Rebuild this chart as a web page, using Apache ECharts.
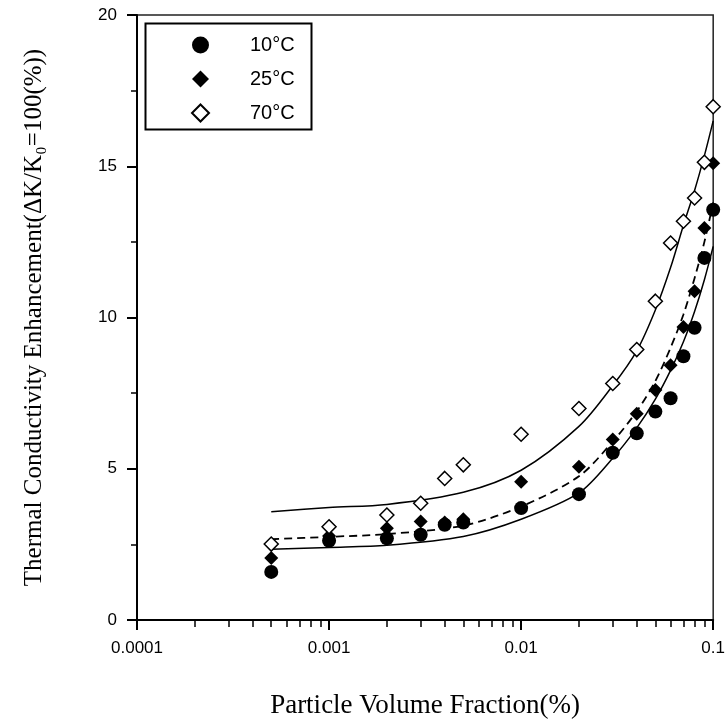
<!DOCTYPE html>
<html>
<head>
<meta charset="utf-8">
<title>Thermal Conductivity Enhancement</title>
<script src="https://cdn.jsdelivr.net/npm/echarts@6/dist/echarts.min.js"></script>
<style>
  html, body { margin: 0; padding: 0; background: #fff; }
  #chart { width: 728px; height: 724px; }
</style>
</head>
<body>
<div id="chart"></div>
<script>
// measured points, x = particle volume fraction (%)
var fractions = [0.0005, 0.001, 0.002, 0.003, 0.004, 0.005, 0.01, 0.02, 0.03, 0.04, 0.05, 0.06, 0.07, 0.08, 0.09, 0.1];
var t10 = [1.59, 2.62, 2.70, 2.82, 3.15, 3.22, 3.70, 4.16, 5.53, 6.17, 6.89, 7.33, 8.72, 9.66, 11.97, 13.56];
var t25 = [2.05, 2.78, 3.03, 3.26, 3.22, 3.33, 4.57, 5.07, 5.97, 6.82, 7.60, 8.42, 9.69, 10.87, 12.96, 15.10];
var t70 = [2.51, 3.08, 3.47, 3.86, 4.68, 5.13, 6.14, 6.99, 7.82, 8.94, 10.54, 12.46, 13.18, 13.95, 15.13, 16.97];

// fitted curves
var curveX = [0.0005, 0.001, 0.002, 0.005, 0.01, 0.02, 0.03, 0.04, 0.05, 0.06, 0.07, 0.08, 0.09, 0.1];
var fitUpper = [3.58, 3.72, 3.82, 4.22, 4.95, 6.40, 7.75, 8.90, 10.25, 11.65, 13.05, 14.20, 15.35, 16.50];
var fitDashed = [2.67, 2.75, 2.84, 3.12, 3.75, 4.75, 5.90, 6.90, 7.90, 9.00, 10.10, 11.30, 12.50, 13.80];
var fitLower = [2.34, 2.40, 2.47, 2.76, 3.33, 4.20, 5.35, 6.35, 7.30, 8.25, 9.20, 10.20, 11.25, 12.35];

var legendNames = ['10\u00b0C', '25\u00b0C', '70\u00b0C'];
var xTickLabels = ['0.0001', '0.001', '0.01', '0.1'];
var xMinorTicks = [0.0002, 0.0003, 0.0004, 0.0005, 0.0006, 0.0007, 0.0008, 0.0009,
                   0.002, 0.003, 0.004, 0.005, 0.006, 0.007, 0.008, 0.009,
                   0.02, 0.03, 0.04, 0.05, 0.06, 0.07, 0.08, 0.09];

function pairs(xs, ys) {
  return xs.map(function (x, i) { return [x, ys[i]]; });
}

var sans = 'Liberation Sans, Arial, sans-serif';
var serif = 'Liberation Serif, Times New Roman, serif';

var chart = echarts.init(document.getElementById('chart'));

var fitLine = function (data, dashed) {
  return {
    type: 'line', data: data, smooth: 0.3,
    showSymbol: false, silent: true, z: 1,
    lineStyle: dashed ? { color: '#000', width: 1.8, type: [8, 5] } : { color: '#000', width: 1.5 }
  };
};

var option = {
  animation: false,
  backgroundColor: '#fff',
  grid: {
    left: 137, right: 12, top: 15, bottom: 103,
    show: true, borderColor: '#222', borderWidth: 1.5
  },
  legend: {
    data: legendNames,
    orient: 'vertical',
    left: 191, top: 35,
    padding: 0,
    itemWidth: 17, itemHeight: 17, itemGap: 14,
    textStyle: { fontFamily: sans, fontSize: 20, color: '#000', padding: [0, 0, 0, 36] }
  },
  graphic: [{
    type: 'rect', left: 143, top: 21, silent: true,
    shape: { width: 166, height: 106 },
    style: { fill: 'none', stroke: '#000', lineWidth: 2 }
  }],
  xAxis: [{
    type: 'log', logBase: 10, min: 0.0001, max: 0.1,
    name: 'Particle Volume Fraction(%)',
    nameLocation: 'middle', nameGap: 72,
    nameTextStyle: { fontFamily: serif, fontSize: 27, color: '#000' },
    axisLine: { lineStyle: { color: '#000', width: 2 } },
    axisTick: { inside: false, length: 10, lineStyle: { color: '#000', width: 2 } },
    axisLabel: {
      margin: 20, fontFamily: sans, fontSize: 17, color: '#000',
      formatter: function (v, i) { return xTickLabels[i]; }
    },
    splitLine: { show: false }
  }, {
    // helper axis carrying the log minor ticks
    type: 'value', min: -4, max: -1, position: 'bottom',
    axisLine: { show: false },
    axisLabel: { show: false },
    splitLine: { show: false },
    axisTick: {
      show: true, inside: false, length: 7,
      customValues: xMinorTicks.map(function (v) { return Math.log10(v); }),
      lineStyle: { color: '#000', width: 1.5 }
    }
  }],
  yAxis: {
    type: 'value', min: 0, max: 20, interval: 5,
    name: 'Thermal Conductivity Enhancement(\u0394K/K\u2080=100(%))',
    nameLocation: 'middle', nameGap: 90,
    nameTextStyle: { fontFamily: serif, fontSize: 25, color: '#000' },
    axisLine: { show: true, lineStyle: { color: '#000', width: 2 } },
    axisTick: { show: true, inside: false, length: 10, lineStyle: { color: '#000', width: 2 } },
    minorTick: { show: true, splitNumber: 2, length: 6, lineStyle: { color: '#000', width: 1.5 } },
    axisLabel: { margin: 20, fontFamily: sans, fontSize: 17, color: '#000' },
    splitLine: { show: false }
  },
  series: [
    fitLine(pairs(curveX, fitUpper), false),
    fitLine(pairs(curveX, fitDashed), true),
    fitLine(pairs(curveX, fitLower), false),
    {
      name: legendNames[0], type: 'scatter', data: pairs(fractions, t10),
      symbol: 'circle', symbolSize: 14, itemStyle: { color: '#000', opacity: 1 }, z: 3
    },
    {
      name: legendNames[1], type: 'scatter', data: pairs(fractions, t25),
      symbol: 'diamond', symbolSize: 14, itemStyle: { color: '#000', opacity: 1 }, z: 4
    },
    {
      name: legendNames[2], type: 'scatter', data: pairs(fractions, t70),
      symbol: 'diamond', symbolSize: 14,
      itemStyle: { color: '#fff', borderColor: '#000', borderWidth: 1.5, opacity: 1 }, z: 5
    }
  ]
};

chart.setOption(option);
</script>
</body>
</html>
